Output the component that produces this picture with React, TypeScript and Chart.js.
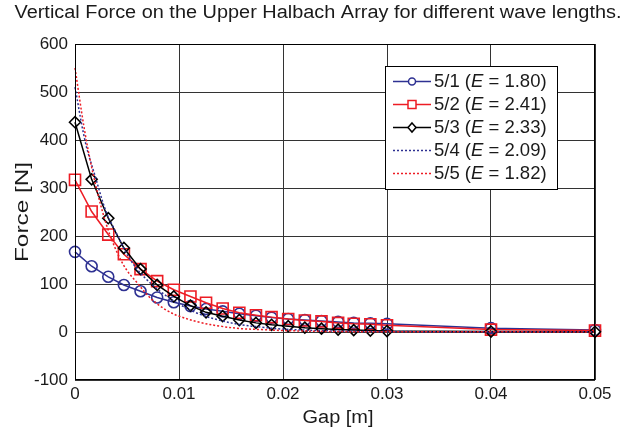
import React, { useEffect, useRef } from "react";
import { Chart, registerables } from "chart.js";

Chart.register(...registerables);

const TITLE = "Vertical Force on the Upper Halbach Array for different wave lengths.";
const X_TITLE = "Gap [m]";
const Y_TITLE = "Force [N]";
const X_TICKS = [0, 0.01, 0.02, 0.03, 0.04, 0.05];
const X_TICK_LABELS = ["0", "0.01", "0.02", "0.03", "0.04", "0.05"];
const Y_TICKS = [-100, 0, 100, 200, 300, 400, 500, 600];

// sampled gaps for marker series
const gapMarked = [
  0, 0.0016, 0.0032, 0.0047, 0.0063, 0.0079, 0.0095, 0.0111, 0.0126, 0.0142, 0.0158,
  0.0174, 0.0189, 0.0205, 0.0221, 0.0237, 0.0253, 0.0268, 0.0284, 0.03, 0.04, 0.05,
];
const force51 = [167, 137, 115, 98, 85, 72, 62, 54, 48, 43, 38, 34, 30, 27, 25, 23, 21, 19, 18, 17, 8, 4];
const force52 = [317, 251, 203, 162, 131, 106, 88, 74, 61, 49, 40, 35, 31, 27, 24, 22, 19, 17, 16, 14, 5, 3];
const force53 = [437, 318, 237, 175, 131, 98, 74, 55, 41, 33, 25, 19, 15, 12, 9, 7, 5, 4, 3, 2, 1, 0.5];

// dense gaps for dotted series
const gapDense = [0, 0.001, 0.002, 0.003, 0.004, 0.005, 0.006, 0.007, 0.008, 0.009, 0.01, 0.012, 0.014, 0.016, 0.018, 0.02, 0.025, 0.03, 0.04, 0.05];
const force54 = [510, 395, 320, 250, 205, 162, 130, 107, 88, 72, 58, 37, 24, 15, 10, 6, 2, 1, 0.5, 0.3];
const force55 = [550, 410, 305, 225, 168, 128, 102, 76, 57, 43, 33, 20, 12, 7, 5, 3, 1, 0.5, 0.3, 0.2];

const seriesNames = ["5/1", "5/2", "5/3", "5/4", "5/5"];
const seriesE = ["1.80", "2.41", "2.33", "2.09", "1.82"];

const BLUE = "rgb(46,49,146)";
const RED = "rgb(237,28,36)";
const BLACK = "rgb(0,0,0)";
const FONT = '"Liberation Sans", Arial, sans-serif';

const toXY = (xs: number[], ys: number[]) => xs.map((x, i) => ({ x, y: ys[i] }));

function drawStretched(ctx: CanvasRenderingContext2D, text: string, cx: number, cy: number, target: number) {
  const w = ctx.measureText(text).width;
  const k = target / w;
  ctx.save();
  ctx.translate(cx, cy);
  ctx.scale(k, 1);
  ctx.textAlign = "center";
  ctx.textBaseline = "middle";
  ctx.fillText(text, 0, 0);
  ctx.restore();
}

export default function App() {
  const ref = useRef<HTMLCanvasElement | null>(null);

  useEffect(() => {
    if (!ref.current) return;

    const styles = [
      { color: BLUE, point: "circle", r: 5.5, dash: [] as number[] },
      { color: RED, point: "rect", r: 7.8, dash: [] as number[] },
      { color: BLACK, point: "rectRot", r: 5.5, dash: [] as number[] },
      { color: BLUE, point: false, r: 0, dash: [2, 2] },
      { color: RED, point: false, r: 0, dash: [2, 2] },
    ];

    const overlay = {
      id: "overlay",
      afterDraw(chart: any) {
        const ctx = chart.ctx as CanvasRenderingContext2D;
        const a = chart.chartArea;
        ctx.save();
        // box
        ctx.strokeStyle = "#000";
        ctx.lineWidth = 1;
        ctx.setLineDash([]);
        ctx.strokeRect(a.left + 0.5, a.top + 0.5, a.right - a.left - 1, a.bottom - a.top - 1);

        // title
        ctx.fillStyle = "#1a1a1a";
        ctx.font = `18px ${FONT}`;
        drawStretched(ctx, TITLE, 318, 13, 607);
        // axis titles
        ctx.font = `18px ${FONT}`;
        drawStretched(ctx, X_TITLE, 338, 418, 71);
        ctx.save();
        ctx.translate(23, 212);
        ctx.rotate(-Math.PI / 2);
        drawStretched(ctx, Y_TITLE, 0, 0, 100);
        ctx.restore();

        // legend
        const lx = 385, ly = 66, lw = 172, lh = 123;
        ctx.fillStyle = "#fff";
        ctx.fillRect(lx, ly, lw, lh);
        ctx.strokeStyle = "#000";
        ctx.lineWidth = 1;
        ctx.strokeRect(lx + 0.5, ly + 0.5, lw, lh);
        const rowY = [81.5, 104.5, 127.5, 150.5, 173.5];
        seriesNames.forEach((name, i) => {
          const s = styles[i];
          const y = rowY[i];
          ctx.strokeStyle = s.color;
          ctx.lineWidth = 1.5;
          ctx.setLineDash(s.dash);
          ctx.beginPath();
          ctx.moveTo(393, y);
          ctx.lineTo(431, y);
          ctx.stroke();
          ctx.setLineDash([]);
          if (s.point) {
            ctx.fillStyle = "#fff";
            ctx.beginPath();
            if (s.point === "circle") {
              ctx.arc(412, y, 3.5, 0, Math.PI * 2);
            } else if (s.point === "rect") {
              ctx.rect(408, y - 4, 8, 8);
            } else {
              ctx.moveTo(412, y - 4.5);
              ctx.lineTo(416, y);
              ctx.lineTo(412, y + 4.5);
              ctx.lineTo(408, y);
              ctx.closePath();
            }
            ctx.fill();
            ctx.stroke();
          }
          // text with italic E
          ctx.fillStyle = "#1a1a1a";
          ctx.textAlign = "left";
          ctx.textBaseline = "middle";
          let x = 434;
          const parts = [
            { t: `${name} (`, it: false },
            { t: "E", it: true },
            { t: ` = ${seriesE[i]})`, it: false },
          ];
          parts.forEach((p) => {
            ctx.font = `${p.it ? "italic " : ""}18.5px ${FONT}`;
            ctx.fillText(p.t, x, y);
            x += ctx.measureText(p.t).width;
          });
        });
        ctx.restore();
      },
    };

    const datasets = [
      { label: seriesNames[0], data: toXY(gapMarked, force51), order: 5 },
      { label: seriesNames[1], data: toXY(gapMarked, force52), order: 4 },
      { label: seriesNames[2], data: toXY(gapMarked, force53), order: 3 },
      { label: seriesNames[3], data: toXY(gapDense, force54), order: 2 },
      { label: seriesNames[4], data: toXY(gapDense, force55), order: 1 },
    ].map((d, i) => {
      const s = styles[i];
      return {
        ...d,
        borderColor: s.color,
        backgroundColor: s.color,
        borderWidth: 1.5,
        borderDash: s.dash,
        tension: s.point ? 0 : 0.35,
        pointStyle: s.point || "circle",
        pointRadius: s.point ? s.r : 0,
        pointBorderColor: s.color,
        pointBackgroundColor: "rgba(255,255,255,0)",
        pointBorderWidth: 1.6,
        fill: false,
        clip: 8,
      };
    });

    const chart = new Chart(ref.current, {
      type: "line",
      data: { datasets: datasets as any },
      options: {
        animation: false,
        responsive: false,
        maintainAspectRatio: false,
        layout: { padding: { top: 44, right: 33, left: 0, bottom: 0 } },
        plugins: { legend: { display: false }, title: { display: false }, tooltip: { enabled: false } },
        scales: {
          x: {
            type: "linear",
            min: 0,
            max: 0.05,
            afterFit: (s: any) => { s.height = 56; },
            afterBuildTicks: (s: any) => { s.ticks = X_TICKS.map((v) => ({ value: v })); },
            ticks: {
              padding: 4,
              color: "#1a1a1a",
              font: { family: FONT, size: 17 },
              maxRotation: 0,
              callback: (v: any) => {
                const idx = X_TICKS.findIndex((t) => Math.abs(t - v) < 1e-9);
                return idx >= 0 ? X_TICK_LABELS[idx] : "";
              },
            },
            grid: { color: "#333", lineWidth: 1, drawTicks: false },
            border: { display: false },
          },
          y: {
            type: "linear",
            min: -100,
            max: 600,
            afterFit: (s: any) => { s.width = 75; },
            afterBuildTicks: (s: any) => { s.ticks = Y_TICKS.map((v) => ({ value: v })); },
            ticks: {
              padding: 7,
              color: "#1a1a1a",
              font: { family: FONT, size: 17 },
              callback: (v: any) => String(v),
            },
            grid: { color: "#333", lineWidth: 1, drawTicks: false },
            border: { display: false },
          },
        },
      },
      plugins: [overlay],
    });
    return () => chart.destroy();
  }, []);

  return (
    <div style={{ position: "absolute", left: 0, top: 0, width: 628, height: 436, background: "#fff" }}>
      <canvas ref={ref} width={628} height={436} style={{ display: "block" }} />
    </div>
  );
}
